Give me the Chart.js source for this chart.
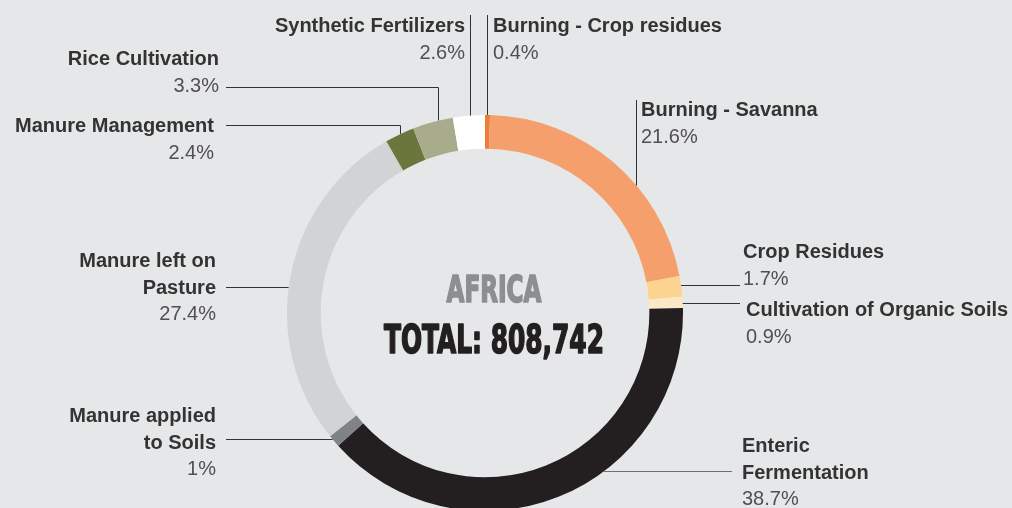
<!DOCTYPE html>
<html>
<head>
<meta charset="utf-8">
<script src="https://cdn.jsdelivr.net/npm/chart.js@4.4.1/dist/chart.umd.min.js"></script>
<style>
    html, body { margin: 0; padding: 0; background: #e6e7e8; overflow: hidden; }
    #wrap { position: relative; width: 1012px; height: 520px; }
</style>
</head>
<body>
<div id="wrap"><canvas id="emissionsChart"></canvas></div>
<script>
// Emission sources, clockwise from 12 o'clock
const categories = [
    ['Burning - Crop residues'],
    ['Burning - Savanna'],
    ['Crop Residues'],
    ['Cultivation of Organic Soils'],
    ['Enteric', 'Fermentation'],
    ['Manure applied', 'to Soils'],
    ['Manure left on', 'Pasture'],
    ['Manure Management'],
    ['Rice Cultivation'],
    ['Synthetic Fertilizers']
];
const shares = [0.4, 21.6, 1.7, 0.9, 38.7, 1, 27.4, 2.4, 3.3, 2.6];
const sliceColors = ['#f07c3a', '#f5a06c', '#fdd390', '#fde8c6', '#231f20',
                     '#808285', '#d1d3d4', '#6b763d', '#a9ac8c', '#ffffff'];
const regionName = 'AFRICA';
const totalText = 'TOTAL: 808,742';

// where each callout sits (text anchor + leader line)
const callouts = [
    { align: 'left',  x: 493, y: 32,  line: { type: 'up', x: 487.5, top: 15 } },
    { align: 'left',  x: 641, y: 116, line: { type: 'up', x: 636.5, top: 100 } },
    { align: 'left',  x: 743, y: 258, line: { type: 'side', y: 285.5, end: 740 } },
    { align: 'left',  x: 746, y: 316, line: { type: 'side', y: 303.5, end: 740 } },
    { align: 'left',  x: 742, y: 452, line: { type: 'side', y: 471.5, end: 732, color: '#6f7072' } },
    { align: 'right', x: 216, y: 422, line: { type: 'side', y: 439.5, end: 226 } },
    { align: 'right', x: 216, y: 267, line: { type: 'side', y: 287.5, end: 226 } },
    { align: 'right', x: 214, y: 132, line: { type: 'elbow', x: 400.5, knee: 125.5, end: 226 } },
    { align: 'right', x: 219, y: 65,  line: { type: 'elbow', x: 438.5, knee: 87.5, end: 226 } },
    { align: 'right', x: 465, y: 32,  line: { type: 'up', x: 470.5, top: 15 } }
];

const fmtPct = v => v + '%';

const calloutPlugin = {
    id: 'callouts',
    afterDraw(chart) {
        const ctx = chart.ctx;
        const arcs = chart.getDatasetMeta(0).data;
        const cx = arcs[0].x, cy = arcs[0].y, r = arcs[0].outerRadius;

        ctx.save();
        callouts.forEach((c, i) => {
            const ln = c.line;
            ctx.beginPath();
            ctx.strokeStyle = ln.color || '#333333';
            ctx.lineWidth = 1;
            if (ln.type === 'up' || ln.type === 'elbow') {
                const ringY = cy - Math.sqrt(r * r - (ln.x - cx) * (ln.x - cx));
                ctx.moveTo(ln.x, ringY);
                if (ln.type === 'up') {
                    ctx.lineTo(ln.x, ln.top);
                } else {
                    ctx.lineTo(ln.x, ln.knee);
                    ctx.lineTo(ln.end, ln.knee);
                }
            } else {
                const dx = Math.sqrt(r * r - (ln.y - cy) * (ln.y - cy));
                const ringX = ln.end > cx ? cx + dx : cx - dx;
                ctx.moveTo(ringX, ln.y);
                ctx.lineTo(ln.end, ln.y);
            }
            ctx.stroke();

            // text
            ctx.textAlign = c.align;
            ctx.textBaseline = 'alphabetic';
            let y = c.y;
            ctx.font = 'bold 20px "Liberation Sans", Arial, sans-serif';
            ctx.fillStyle = '#333333';
            categories[i].forEach(t => {
                ctx.fillText(t, c.x, y);
                y += 26.5;
            });
            ctx.font = '20px "Liberation Sans", Arial, sans-serif';
            ctx.fillStyle = '#505052';
            ctx.fillText(fmtPct(shares[i]), c.x, y);
        });

        // centre title, squeezed to look condensed
        const drawSqueezed = (text, font, color, baseY, width) => {
            ctx.font = font;
            ctx.fillStyle = color;
            ctx.strokeStyle = color;
            ctx.lineWidth = 1.6;
            ctx.lineJoin = 'round';
            ctx.textAlign = 'center';
            const w = ctx.measureText(text).width;
            ctx.save();
            ctx.translate(cx + 9, baseY);
            ctx.scale(width / w, 1);
            ctx.fillText(text, 0, 0);
            ctx.strokeText(text, 0, 0);
            ctx.restore();
        };
        drawSqueezed(regionName, 'bold 37px "DejaVu Sans Condensed", "DejaVu Sans", sans-serif', '#8d8e90', cy - 11, 95);
        drawSqueezed(totalText, 'bold 39px "DejaVu Sans Condensed", "DejaVu Sans", sans-serif', '#231f20', cy + 40, 220);
        ctx.restore();
    }
};

const ctx = document.getElementById('emissionsChart').getContext('2d');
new Chart(ctx, {
    type: 'doughnut',
    data: {
        labels: categories,
        datasets: [{
            data: shares,
            backgroundColor: sliceColors,
            borderWidth: 0
        }]
    },
    options: {
        responsive: true,
        maintainAspectRatio: false,
        animation: false,
        cutout: '83%',
        layout: {
            padding: { left: 287, right: 329, top: 115, bottom: 9 }
        },
        plugins: {
            legend: { display: false },
            tooltip: { enabled: false }
        }
    },
    plugins: [calloutPlugin]
});
</script>
</body>
</html>
